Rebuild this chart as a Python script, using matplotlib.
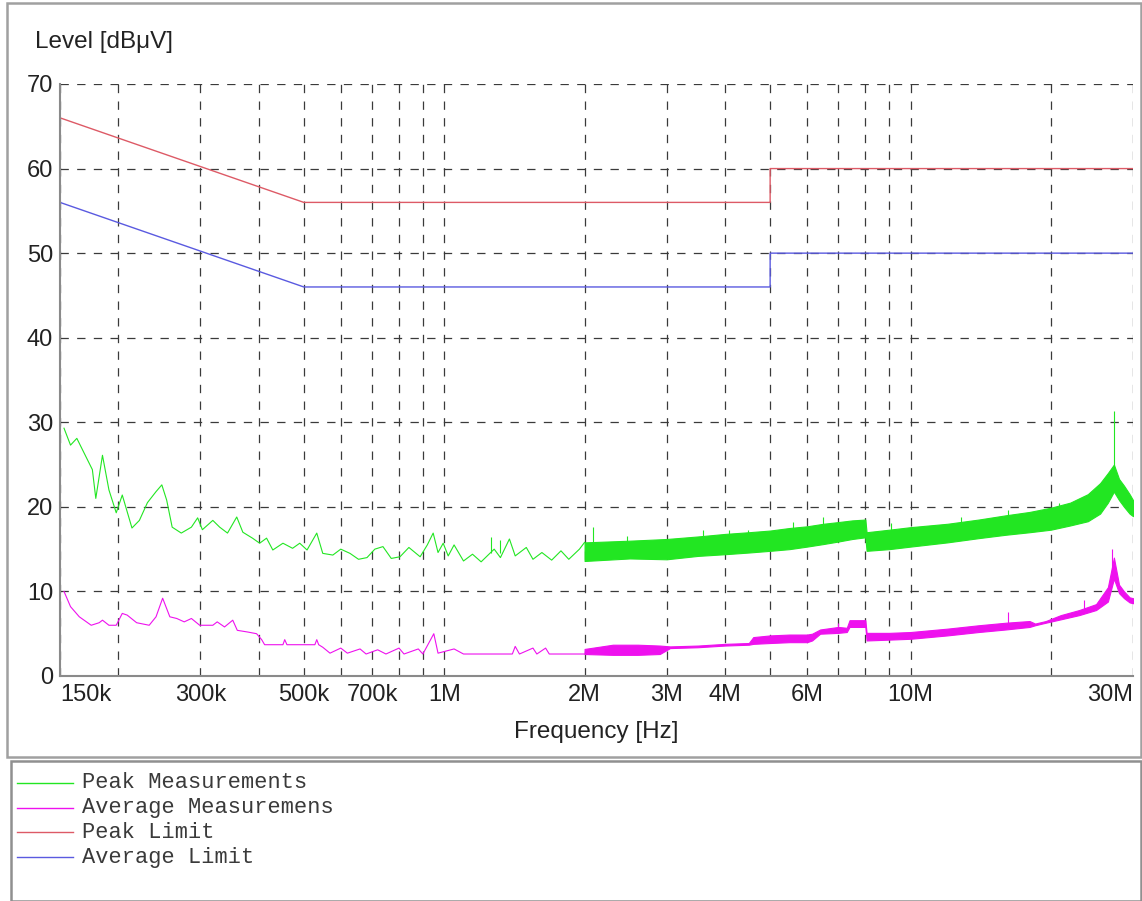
import matplotlib
matplotlib.use("Agg")
import matplotlib.pyplot as plt
from matplotlib.lines import Line2D
from matplotlib.patches import Rectangle
from matplotlib.ticker import FixedLocator, FixedFormatter, NullFormatter

plt.rcParams['lines.scale_dashes'] = False
plt.rcParams['font.family'] = ['Liberation Sans', 'DejaVu Sans']

# limit lines (MHz, dBuV)
limit_f = [0.15, 0.5, 5.0, 5.0, 30.0]
peak_limit = [66, 56, 56, 60, 60]
avg_limit = [56, 46, 46, 50, 50]

# peak trace, sparse part (MHz, dBuV)
peak_f = [0.153, 0.158, 0.163, 0.176, 0.179, 0.185, 0.191, 0.198, 0.204, 0.214,
          0.222, 0.231, 0.241, 0.248, 0.254, 0.261, 0.273, 0.287, 0.296, 0.303,
          0.319, 0.330, 0.343, 0.359, 0.370, 0.388, 0.402, 0.416, 0.429, 0.451,
          0.473, 0.490, 0.508, 0.533, 0.549, 0.577, 0.600, 0.628, 0.655, 0.683,
          0.710, 0.739, 0.770, 0.804, 0.840, 0.888, 0.920, 0.947, 0.970, 0.995,
          1.02, 1.05, 1.10, 1.15, 1.20, 1.28, 1.32, 1.38, 1.42, 1.50,
          1.55, 1.62, 1.70, 1.78, 1.85, 1.95, 2.0]
peak_db = [29.3, 27.3, 28.1, 24.4, 21.0, 26.1, 22.0, 19.3, 21.4, 17.5,
           18.4, 20.5, 21.8, 22.6, 20.8, 17.6, 16.9, 17.6, 18.7, 17.3,
           18.4, 17.6, 16.9, 18.8, 17.0, 16.3, 15.7, 16.3, 14.9, 15.7,
           15.1, 15.7, 14.9, 16.9, 14.5, 14.3, 15.0, 14.5, 13.8, 14.0,
           15.0, 15.3, 13.9, 14.1, 15.2, 14.1, 15.5, 16.9, 14.6, 15.7,
           14.2, 15.5, 13.6, 14.4, 13.5, 15.0, 14.0, 16.2, 14.2, 15.2,
           13.8, 14.6, 13.7, 14.8, 13.8, 15.0, 15.8]

# peak trace, dense part: envelope of the band
peak_band_f = [2.0, 2.5, 3.0, 3.5, 4.0, 4.5, 5.0, 5.5, 6.0, 6.5, 7.0, 7.5, 8.0, 8.05,
               9.0, 10, 12, 14, 16, 18, 20, 22, 24, 25.5, 26.5, 27.3, 28, 28.7, 29.5, 30]
peak_band_lo = [13.6, 13.9, 13.8, 14.2, 14.4, 14.6, 14.8, 15.0, 15.3, 15.6, 15.9, 16.2, 16.4, 14.8,
                15.0, 15.3, 15.8, 16.3, 16.7, 17.0, 17.3, 17.8, 18.3, 19.2, 20.5, 21.8, 20.8, 20.0, 19.2, 18.9]
peak_band_hi = [15.8, 16.0, 16.2, 16.5, 16.8, 17.0, 17.2, 17.5, 17.7, 18.0, 18.2, 18.4, 18.5, 17.0,
                17.3, 17.6, 18.0, 18.5, 19.0, 19.4, 19.9, 20.5, 21.5, 22.8, 24.0, 25.0, 23.3, 22.5, 21.5, 20.8]
peak_spike_f = [1.26, 1.32, 2.09, 2.47, 3.59, 4.08, 4.48, 5.6, 6.5, 9.1, 12.8, 16.2, 20.8, 27.3]
peak_spike_lo = [14.5, 14.5, 15.0, 15.0, 15.5, 16.0, 16.0, 16.5, 17.0, 16.5, 17.0, 18.0, 19.0, 23.0]
peak_spike_hi = [16.4, 16.1, 17.6, 16.6, 17.3, 17.3, 17.3, 18.2, 18.8, 18.1, 18.8, 19.6, 20.4, 31.3]

# average trace, sparse part
avg_f = [0.153, 0.158, 0.165, 0.175, 0.182, 0.185, 0.191, 0.198, 0.204, 0.209,
         0.219, 0.233, 0.241, 0.249, 0.258, 0.267, 0.277, 0.287, 0.299, 0.319,
         0.326, 0.338, 0.352, 0.360, 0.379, 0.396, 0.406, 0.412, 0.451, 0.455,
         0.460, 0.528, 0.533, 0.538, 0.549, 0.569, 0.600, 0.620, 0.660, 0.680,
         0.720, 0.750, 0.800, 0.820, 0.880, 0.900, 0.950, 0.970, 1.05, 1.10,
         1.40, 1.42, 1.45, 1.55, 1.58, 1.65, 1.68, 2.0]
avg_db = [10.0, 8.2, 7.0, 6.0, 6.3, 6.6, 6.0, 6.0, 7.4, 7.2,
          6.3, 6.0, 7.0, 9.2, 7.0, 6.8, 6.4, 6.8, 6.0, 6.0,
          6.4, 5.8, 6.6, 5.4, 5.2, 5.0, 4.3, 3.7, 3.7, 4.3,
          3.7, 3.7, 4.3, 3.7, 3.4, 2.7, 3.3, 2.7, 3.2, 2.6,
          3.1, 2.6, 3.3, 2.6, 3.2, 2.6, 5.0, 2.7, 3.2, 2.6,
          2.6, 3.5, 2.6, 3.3, 2.6, 3.3, 2.6, 2.6]

# average trace, dense part
avg_band_f = [2.0, 2.3, 2.6, 2.9, 3.05, 3.5, 4.0, 4.5, 4.6, 5.0, 5.5, 6.0, 6.15, 6.4, 7.0, 7.3,
              7.4, 8.0, 8.05, 9, 10, 12, 14, 16, 18, 18.5, 19.5, 21, 23, 25, 26.5, 27.3,
              28, 28.7, 29.5, 30]
avg_band_lo = [2.6, 2.5, 2.5, 2.6, 3.3, 3.4, 3.6, 3.7, 3.8, 3.9, 4.0, 4.0, 4.2, 5.0, 5.1, 5.2,
               5.8, 5.8, 4.2, 4.3, 4.4, 4.8, 5.2, 5.5, 5.8, 6.0, 6.3, 6.7, 7.2, 7.8, 8.8, 11.5,
               9.8, 9.2, 8.7, 8.6]
avg_band_hi = [3.2, 3.7, 3.7, 3.6, 3.5, 3.6, 3.8, 3.9, 4.6, 4.8, 4.9, 4.9, 5.0, 5.5, 5.8, 5.7,
               6.6, 6.6, 5.1, 5.1, 5.2, 5.6, 6.0, 6.3, 6.5, 6.2, 6.5, 7.2, 7.8, 8.5, 10.5, 14.0,
               10.8, 10.0, 9.3, 9.2]
avg_spike_f = [7.0, 16.2, 23.5, 27.0]
avg_spike_lo = [5.5, 6.0, 7.5, 11.0]
avg_spike_hi = [6.3, 7.6, 9.0, 15.0]

major_f = [0.15, 0.3, 0.5, 0.7, 1, 2, 3, 4, 6, 10, 30]
major_lbl = ['150k', '300k', '500k', '700k', '1M', '2M', '3M', '4M', '6M', '10M', '30M']
minor_f = [0.2, 0.4, 0.6, 0.8, 0.9, 5, 7, 8, 9, 20]

legend_names = ['Peak Measurements', 'Average Measuremens', 'Peak Limit', 'Average Limit']

GREEN = '#22e622'
MAGENTA = '#ee11ee'
RED = '#dd5a66'
BLUE = '#5a5ae0'
legend_colors = [GREEN, MAGENTA, RED, BLUE]

W, H = 1142, 901
fig = plt.figure(figsize=(W / 100, H / 100), dpi=100)
ax = fig.add_axes([60 / W, 1 - 676 / H, (1133 - 60) / W, (676 - 84) / H])

# traces
ax.plot(peak_f, peak_db, color=GREEN, lw=0.8)
ax.fill_between(peak_band_f, peak_band_lo, peak_band_hi, color=GREEN, lw=0.8)
ax.vlines(peak_spike_f, peak_spike_lo, peak_spike_hi, color=GREEN, lw=0.8)
ax.plot(avg_f, avg_db, color=MAGENTA, lw=0.8)
ax.fill_between(avg_band_f, avg_band_lo, avg_band_hi, color=MAGENTA, lw=0.8)
ax.vlines(avg_spike_f, avg_spike_lo, avg_spike_hi, color=MAGENTA, lw=0.8)
ax.plot(limit_f, peak_limit, color=RED, lw=1.0)
ax.plot(limit_f, avg_limit, color=BLUE, lw=1.0)

ax.set_xscale('log')
ax.set_xlim(0.15, 30)
ax.set_ylim(0, 70)
ax.xaxis.set_major_locator(FixedLocator(major_f))
ax.xaxis.set_major_formatter(FixedFormatter(major_lbl))
ax.xaxis.set_minor_locator(FixedLocator(minor_f))
ax.xaxis.set_minor_formatter(NullFormatter())
ax.set_yticks(range(0, 71, 10))

ax.set_axisbelow(True)
ax.grid(True, which='both', color='#3a3a3a', lw=0.9, linestyle=(0, (6, 6)))
ax.tick_params(which='both', length=0, labelsize=17, colors='#222222')
ax.tick_params(axis='x', pad=6)
ax.tick_params(axis='y', pad=5)
for s in ['top', 'right']:
    ax.spines[s].set_visible(False)
for s in ['left', 'bottom']:
    ax.spines[s].set_color('#8a8a8a')
    ax.spines[s].set_linewidth(1.5)

xl = ax.get_xticklabels()
xl[0].set_ha('left')
xl[-1].set_ha('right')

fig.text(35 / W, 1 - 42 / H, 'Level [dB\u03bcV]', fontsize=17.5, va='center', color='#222222')
fig.text(596 / W, 1 - 732 / H, 'Frequency [Hz]', fontsize=17.5, ha='center', va='center',
         color='#222222')

# frames
fig.add_artist(Rectangle((7 / W, 1 - 757 / H), 1134 / W, 754 / H, transform=fig.transFigure,
                         fill=False, ec='#a0a0a0', lw=1.8))
fig.add_artist(Rectangle((11 / W, 0), 1130 / W, 1 - 761 / H, transform=fig.transFigure,
                         fill=False, ec='#909090', lw=1.8))

# legend box
for i, (name, c) in enumerate(zip(legend_names, legend_colors)):
    y = 1 - (783 + 24.7 * i) / H
    fig.add_artist(Line2D([17 / W, 73 / W], [y, y], transform=fig.transFigure, color=c, lw=1.0))
    fig.text(82 / W, y, name, fontsize=15.8, family='Liberation Mono', va='center',
             color='#3a3a3a')

fig.savefig('out.png', dpi=100)
